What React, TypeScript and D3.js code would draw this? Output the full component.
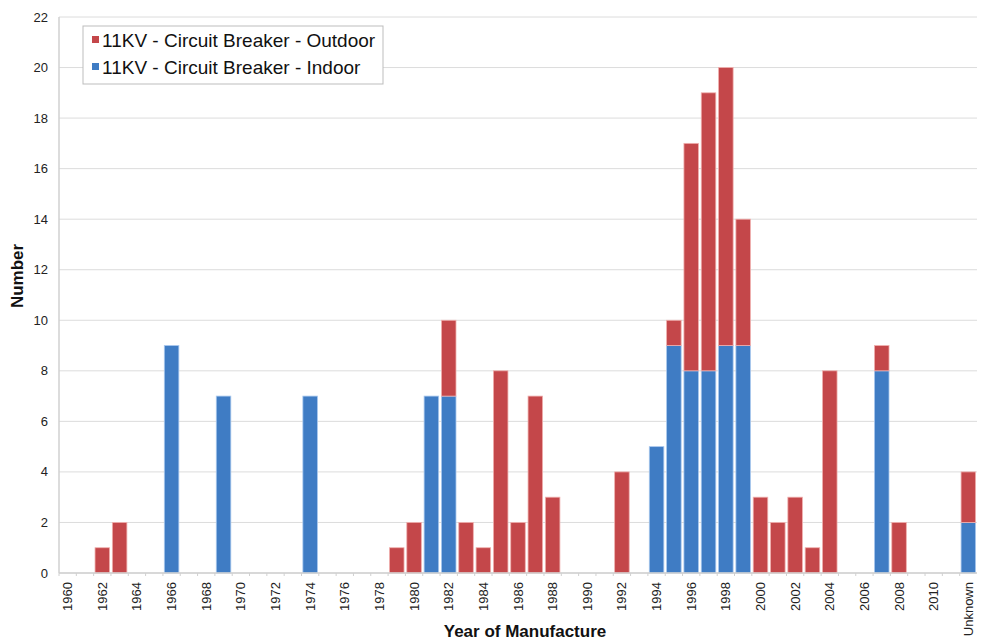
import React from "react";
import * as d3 from "d3";

const categories: string[] = [
  "1960","1961","1962","1963","1964","1965","1966","1967","1968","1969",
  "1970","1971","1972","1973","1974","1975","1976","1977","1978","1979",
  "1980","1981","1982","1983","1984","1985","1986","1987","1988","1989",
  "1990","1991","1992","1993","1994","1995","1996","1997","1998","1999",
  "2000","2001","2002","2003","2004","2005","2006","2007","2008","2009",
  "2010","2011","Unknown",
];

const indoor: number[] = [
  0,0,0,0,0,0,9,0,0,7,
  0,0,0,0,7,0,0,0,0,0,
  0,7,7,0,0,0,0,0,0,0,
  0,0,0,0,5,9,8,8,9,9,
  0,0,0,0,0,0,0,8,0,0,
  0,0,2,
];

const outdoor: number[] = [
  0,0,1,2,0,0,0,0,0,0,
  0,0,0,0,0,0,0,0,0,1,
  2,0,3,2,1,8,2,7,3,0,
  0,0,4,0,0,1,9,11,11,5,
  3,2,3,1,8,0,0,1,2,0,
  0,0,2,
];

const yTicks: number[] = [0, 2, 4, 6, 8, 10, 12, 14, 16, 18, 20, 22];
const xTickLabels: string[] = categories.filter(
  (c) => c === "Unknown" || (+c % 2 === 0 && +c <= 2010)
);

const seriesNames = ["11KV - Circuit Breaker - Outdoor", "11KV - Circuit Breaker - Indoor"];
const RED = "#c4474a";
const BLUE = "#3f7cc4";

export default function App() {
  const W = 981, H = 642;
  const left = 59, right = 977, top = 17, bottom = 573;
  const x = d3.scaleBand<string>().domain(categories).range([left, right]).paddingInner(0.16).paddingOuter(0.08);
  const y = d3.scaleLinear().domain([0, 22]).range([bottom, top]);
  const font = "'Liberation Sans', Arial, sans-serif";
  const bw = x.bandwidth();

  return (
    <svg width={W} height={H} style={{ position: "absolute", left: 0, top: 0, background: "#fff" }} fontFamily={font}>
      {yTicks.map((t) => (
        <line key={"g" + t} x1={left} x2={right} y1={y(t)} y2={y(t)} stroke="#dcdcdc" strokeWidth={1} />
      ))}
      <line x1={left} x2={left} y1={top} y2={bottom} stroke="#d0d0d0" strokeWidth={1.5} />
      {yTicks.map((t) => (
        <text key={"yl" + t} x={48} y={y(t)} dy="0.35em" textAnchor="end" fontSize={13} fill="#222">
          {t}
        </text>
      ))}
      {categories.map((c) => (
        <line key={"xt" + c} x1={(x(c) as number) - (x.step() - bw) / 2} x2={(x(c) as number) - (x.step() - bw) / 2} y1={bottom} y2={bottom + 3} stroke="#d0d0d0" />
      ))}
      {categories.map((c, i) => {
        const x0 = x(c) as number;
        const ind = indoor[i];
        const out = outdoor[i];
        return (
          <g key={"b" + c}>
            {ind > 0 && (
              <rect x={x0} y={y(ind)} width={bw} height={y(0) - y(ind)} fill={BLUE} stroke="#a9c8ee" strokeWidth={0.8} />
            )}
            {out > 0 && (
              <rect x={x0} y={y(ind + out)} width={bw} height={y(ind) - y(ind + out)} fill={RED} stroke="#f0b0ae" strokeWidth={0.8} />
            )}
          </g>
        );
      })}
      <line x1={left} x2={right} y1={bottom} y2={bottom} stroke="#d0d0d0" strokeWidth={1.5} />
      {xTickLabels.map((c) => {
        const cx = (x(c) as number) + bw / 2;
        return (
          <text key={"xl" + c} transform={`translate(${cx + 4.5},${bottom + 9}) rotate(-90)`} textAnchor="end" fontSize={13} fill="#222">
            {c}
          </text>
        );
      })}
      <text transform={`translate(23,276) rotate(-90)`} textAnchor="middle" fontSize={17} fontWeight="bold" fill="#111">
        Number
      </text>
      <text x={525} y={637} textAnchor="middle" fontSize={17} fontWeight="bold" fill="#111">
        Year of Manufacture
      </text>
      <rect x={83} y={26} width={300} height={58} fill="#fff" stroke="#bdbdbd" strokeWidth={1} />
      {seriesNames.map((s, i) => (
        <g key={"lg" + s} transform={`translate(92,${40 + i * 27})`}>
          <rect x={0} y={-4} width={7} height={7} fill={i === 0 ? RED : BLUE} />
          <text x={10} y={0} dy="0.35em" fontSize={19} fill="#111">
            {s}
          </text>
        </g>
      ))}
    </svg>
  );
}
